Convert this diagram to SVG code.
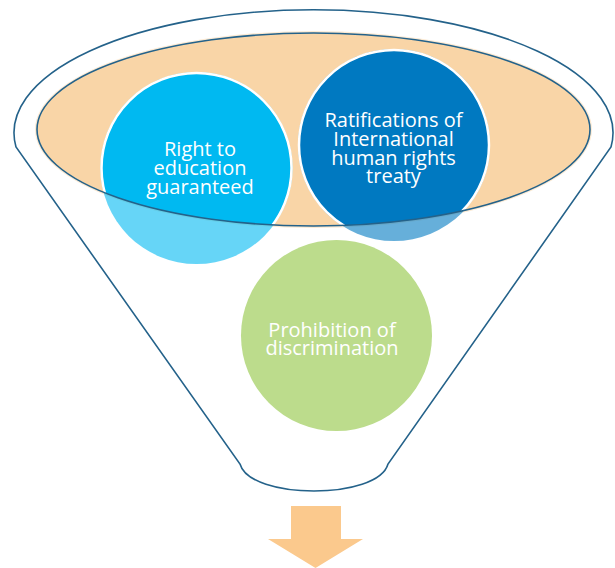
<svg xmlns="http://www.w3.org/2000/svg" width="615" height="568" viewBox="0 0 615 568">
<defs>
<style>
.line{fill:none;stroke:#24628A;stroke-width:1.6}
.lbl{font-family:"Open Sans","Liberation Sans",sans-serif;font-size:20px;fill:#FFFFFF;text-anchor:middle}
</style>
<clipPath id="inner">
<ellipse cx="313.5" cy="129.5" rx="276.5" ry="96.5"/>
</clipPath>
</defs>
<rect width="615" height="568" fill="#FFFFFF"/>
<g id="funnel">
<path class="line" d="M16,147 A299.5,123 0 1 1 611,147 L388,464 C378,500 250,500 240,464 Z"/>
<ellipse cx="313.5" cy="129.5" rx="278.5" ry="98.5" fill="#F9D5A7" opacity="0.5"/>
<ellipse cx="313.5" cy="129.5" rx="276.5" ry="96.5" fill="#F9D5A7"/>
</g>
<g id="node-right-to-education">
<circle cx="196.5" cy="168" r="96" fill="#00B9F1" opacity="0.6"/>
<circle cx="196.5" cy="168" r="95" fill="#00B9F1" stroke="#FFFFFF" stroke-width="2.5" clip-path="url(#inner)"/>
<text class="lbl" x="200" y="156">Right to</text>
<text class="lbl" x="200" y="175">education</text>
<text class="lbl" x="200" y="194">guaranteed</text>
</g>
<g id="node-ratifications">
<circle cx="394" cy="145" r="96" fill="#0079C1" opacity="0.6"/>
<circle cx="394" cy="145" r="95" fill="#0079C1" stroke="#FFFFFF" stroke-width="2.5" clip-path="url(#inner)"/>
<text class="lbl" x="393.5" y="127">Ratifications of</text>
<text class="lbl" x="393.5" y="146">International</text>
<text class="lbl" x="393.5" y="164.5">human rights</text>
<text class="lbl" x="393.5" y="183">treaty</text>
</g>
<g id="funnel-rim">
<ellipse class="line" cx="313.5" cy="129.5" rx="276.5" ry="96.5"/>
</g>
<g id="node-prohibition">
<circle cx="336.5" cy="335.5" r="95.5" fill="#BCDC8C"/>
<text class="lbl" x="332" y="336.5">Prohibition of</text>
<text class="lbl" x="332" y="355">discrimination</text>
</g>
<g id="connectors">
<polygon id="arrow" points="291,506 341,506 341,539 363,539 315.5,568 268,539 291,539" fill="#FBC98D"/>
</g>
</svg>
